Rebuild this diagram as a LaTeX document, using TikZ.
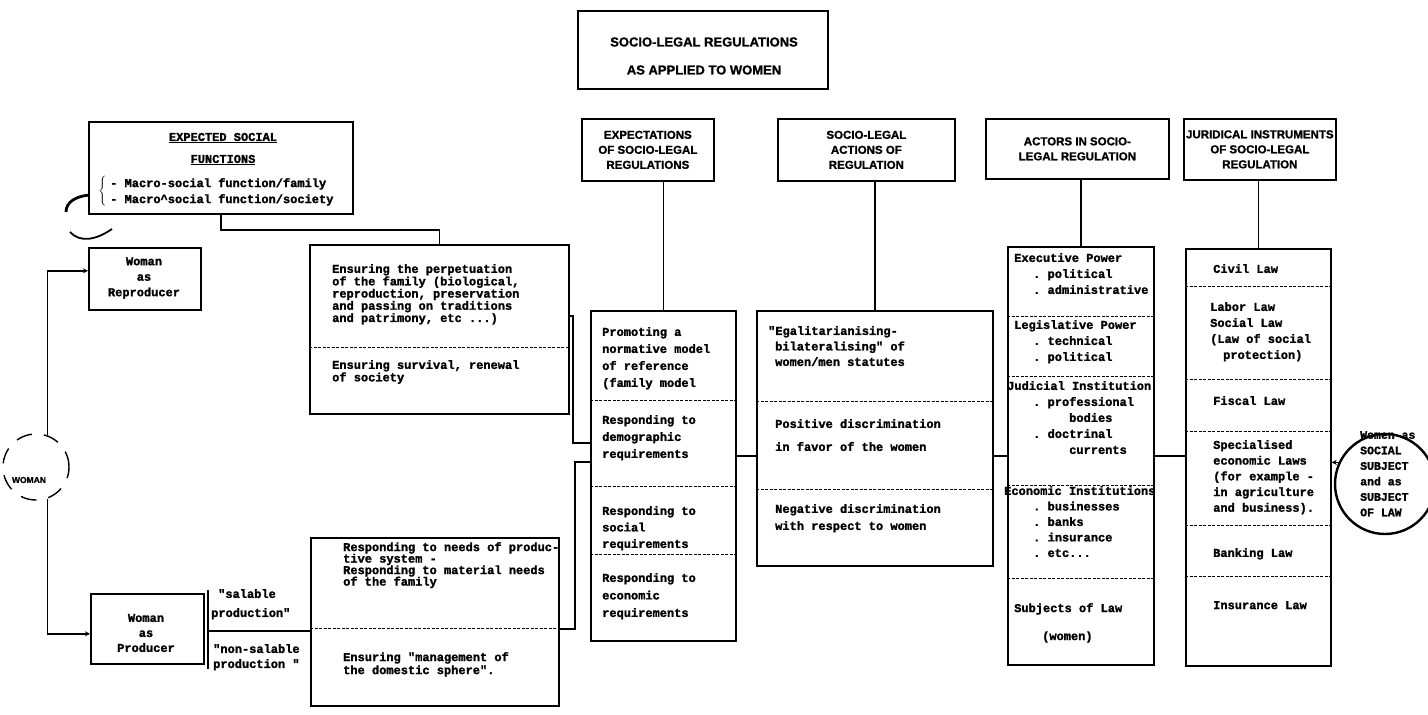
\documentclass[tikz,border=0pt]{standalone}
\usepackage{fontspec}
\setmainfont{Liberation Serif}
\setsansfont[BoldFeatures={FakeBold=1.2}]{Liberation Sans}
\setmonofont[BoldFeatures={FakeBold=1.6}]{Liberation Mono}
\usepackage{tikz}
\usetikzlibrary{arrows.meta}
\tikzset{>={Stealth[length=5pt,width=5pt]}}
\tikzset{
  box/.style={draw, line width=1.7pt, anchor=north west, inner sep=0pt},
  heading/.style={font=\sffamily\bfseries\fontsize{11.5}{15}\selectfont, align=center},
  txt/.style={font=\ttfamily\bfseries\fontsize{12}{11}\selectfont, align=left, anchor=north west, inner sep=0pt},
  divider/.style={line width=1pt, dash pattern=on 3pt off 1.5pt},
  link/.style={line width=1.7pt},
}
\newcommand{\tabin}[1]{\hspace*{#1pt}}

\begin{document}
\begin{tikzpicture}[x=1pt, y=-1pt]
  \useasboundingbox (0,0) rectangle (1428,715);

  \node (title) at (577,10) [box, minimum width=250, minimum height=78] {};
  \node (titletext) at (704,56) [font=\sffamily\bfseries\fontsize{13}{28}\selectfont, align=center] {SOCIO-LEGAL REGULATIONS\\AS APPLIED TO WOMEN};

  \node (functions) at (88,121) [box, minimum width=264, minimum height=92] {};
  \node (funchead) at (223,149) [txt, anchor=center, align=center, font=\ttfamily\bfseries\fontsize{12}{22}\selectfont] {\underline{EXPECTED SOCIAL}\\\underline{FUNCTIONS}};
  \node (funcbrace) at (103,192) [font=\fontsize{12}{12}\selectfont, inner sep=0pt] {$\left\{\vrule height 13pt depth 13pt width 0pt\right.$};
  \node (funclist) at (110,178) [txt, font=\ttfamily\bfseries\fontsize{12}{16}\selectfont] {- Macro-social function/family\\- Macro\textasciicircum social function/society};
  \draw[line width=2.8pt] (90,195) .. controls (76,196) and (66,202) .. (66,212);
  \draw[line width=1.8pt] (70,232) .. controls (80,243) and (96,240) .. (112,229);

  \node (reproducer) at (88,247) [box, minimum width=112, minimum height=62] {};
  \node (reproducertext) at (144,278) [txt, anchor=center, align=center, font=\ttfamily\bfseries\fontsize{12}{15.5}\selectfont] {Woman\\as\\Reproducer};
  \node (producer) at (90,593) [box, minimum width=113, minimum height=70] {};
  \node (producertext) at (146,633) [txt, anchor=center, align=center, font=\ttfamily\bfseries\fontsize{12}{15}\selectfont] {Woman\\as\\Producer};

  \node (woman) at (36,467) [circle, draw, minimum size=66, inner sep=0pt, line width=1.4pt, dash pattern=on 16pt off 12pt] {};
  \node (womanlabel) at (29,480) [font=\sffamily\bfseries\fontsize{8.5}{10}\selectfont] {WOMAN};
  \draw[link,->] (woman.70) |- ([yshift=8pt]reproducer.west);
  \draw[link,->] (woman.-70) |- ([yshift=-5pt]producer.west);

  \node (perpetuation) at (309,244) [box, minimum width=259, minimum height=169] {};
  \node (perpetuation1) at (332,264) [txt] {Ensuring the perpetuation\\of the family (biological,\\reproduction, preservation\\and passing on traditions\\and patrimony, etc ...)};
  \node (perpetuation2) at (332,360) [txt] {Ensuring survival, renewal\\of society};
  \draw[divider] (309,347) -- (568,347);
  \draw[link] (functions.south) -- ++(0,15) -| (perpetuation.north);

  \node (responding) at (310,537) [box, minimum width=248, minimum height=168] {};
  \node (responding1) at (343,542) [txt, font=\ttfamily\bfseries\fontsize{12}{11.5}\selectfont] {Responding to needs of produc-\\tive system -\\Responding to material needs\\of the family};
  \node (responding2) at (343,652) [txt, font=\ttfamily\bfseries\fontsize{12}{13}\selectfont] {Ensuring "management of\\the domestic sphere".};
  \draw[divider] (310,628) -- (558,628);

  \coordinate (fork) at (208,631);
  \draw[link] ([yshift=3pt]fork |- producer.north) -- ([yshift=-4pt]fork |- producer.south);
  \draw[link] (fork) -- (fork -| responding.west);
  \node (salable) at (211,589) [txt, font=\ttfamily\bfseries\fontsize{12}{19}\selectfont] {\tabin{7}"salable\\production"};
  \node (nonsalable) at (213,644) [txt, font=\ttfamily\bfseries\fontsize{12}{15}\selectfont] {"non-salable\\production "};

  \node (expectations) at (581,118) [box, heading, minimum width=132, minimum height=62] {EXPECTATIONS\\OF SOCIO-LEGAL\\REGULATIONS};
  \node (expectbody) at (590,310) [box, minimum width=145, minimum height=330] {};
  \draw[link] (expectbody.north) -- (expectbody.north |- expectations.south);
  \draw[divider] (590,400) -- (735,400);
  \draw[divider] (590,486) -- (735,486);
  \draw[divider] (590,554) -- (735,554);
  \node (expect1) at (602,327) [txt, font=\ttfamily\bfseries\fontsize{12}{17}\selectfont] {Promoting a\\normative model\\of reference\\(family model};
  \node (expect2) at (602,415) [txt, font=\ttfamily\bfseries\fontsize{12}{17}\selectfont] {Responding to\\demographic\\requirements};
  \node (expect3) at (602,506) [txt, font=\ttfamily\bfseries\fontsize{12}{16.5}\selectfont] {Responding to\\social\\requirements};
  \node (expect4) at (602,573) [txt, font=\ttfamily\bfseries\fontsize{12}{17.5}\selectfont] {Responding to\\economic\\requirements};

  \coordinate (joinA) at (573,443);
  \coordinate (joinB) at (575,462);
  \draw[link] ([yshift=-72pt]perpetuation.north east) -| (joinA) -- (joinA -| expectbody.west);
  \draw[link] ([yshift=-7pt]responding.east) -| (joinB) -- (joinB -| expectbody.west);

  \node (actions) at (777,118) [box, heading, minimum width=177, minimum height=62] {SOCIO-LEGAL\\ACTIONS OF\\REGULATION};
  \node (actionbody) at (756,310) [box, minimum width=236, minimum height=255] {};
  \draw[link] (actionbody.north) -- (actionbody.north |- actions.south);
  \draw[divider] (756,401) -- (992,401);
  \draw[divider] (756,489) -- (992,489);
  \node (action1) at (768,326) [txt, font=\ttfamily\bfseries\fontsize{12}{15.5}\selectfont] {"Egalitarianising-\\\tabin{7}bilateralising" of\\\tabin{7}women/men statutes};
  \node (action2) at (775,419) [txt, font=\ttfamily\bfseries\fontsize{12}{23}\selectfont] {Positive discrimination\\in favor of the women};
  \node (action3) at (775,504) [txt, font=\ttfamily\bfseries\fontsize{12}{17}\selectfont] {Negative discrimination\\with respect to women};

  \node (actors) at (985,118) [box, heading, minimum width=183, minimum height=60] {ACTORS IN SOCIO-\\LEGAL REGULATION};
  \node (actorbody) at (1007,246) [box, minimum width=146, minimum height=418] {};
  \draw[link] (actorbody.north) -- (actorbody.north |- actors.south);
  \draw[divider] (1007,316) -- (1153,316);
  \draw[divider] (1007,376) -- (1153,376);
  \draw[divider] (1007,485) -- (1153,485);
  \draw[divider] (1007,578) -- (1153,578);
  \node (actor1) at (1014,253) [txt, font=\ttfamily\bfseries\fontsize{12}{16}\selectfont] {Executive Power\\\tabin{19}. political\\\tabin{19}. administrative};
  \node (actor2) at (1014,320) [txt, font=\ttfamily\bfseries\fontsize{12}{16}\selectfont] {Legislative Power\\\tabin{19}. technical\\\tabin{19}. political};
  \node (actor3) at (1007,381) [txt, font=\ttfamily\bfseries\fontsize{12}{16}\selectfont] {Judicial Institution\\\tabin{26}. professional\\\tabin{62}bodies\\\tabin{26}. doctrinal\\\tabin{62}currents};
  \node (actor4) at (1004,486) [txt, font=\ttfamily\bfseries\fontsize{12}{15.5}\selectfont] {Economic Institutions\\\tabin{29}. businesses\\\tabin{29}. banks\\\tabin{29}. insurance\\\tabin{29}. etc...};
  \node (actor5) at (1014,603) [txt, font=\ttfamily\bfseries\fontsize{12}{28}\selectfont] {Subjects of Law\\\tabin{28}(women)};

  \node (instruments) at (1183,118) [box, heading, minimum width=152, minimum height=61] {JURIDICAL INSTRUMENTS\\OF SOCIO-LEGAL\\REGULATION};
  \node (lawbody) at (1185,248) [box, minimum width=145, minimum height=417] {};
  \draw[link] (lawbody.north) -- (lawbody.north |- instruments.south);
  \draw[divider] (1185,286) -- (1330,286);
  \draw[divider] (1185,379) -- (1330,379);
  \draw[divider] (1185,431) -- (1330,431);
  \draw[divider] (1185,525) -- (1330,525);
  \draw[divider] (1185,576) -- (1330,576);
  \node (law1) at (1213,264) [txt] {Civil Law};
  \node (law2) at (1210,302) [txt, font=\ttfamily\bfseries\fontsize{12}{16}\selectfont] {Labor Law\\Social Law\\(Law of social\\\tabin{13}protection)};
  \node (law3) at (1213,396) [txt] {Fiscal Law};
  \node (law4) at (1213,440) [txt, font=\ttfamily\bfseries\fontsize{12}{15.7}\selectfont] {Specialised\\economic Laws\\(for example -\\in agriculture\\and business).};
  \node (law5) at (1213,548) [txt] {Banking Law};
  \node (law6) at (1213,601) [txt] {Insurance Law};

  \node (womanlaw) at (1385,484) [circle, draw, line width=2.4pt, minimum size=100, inner sep=0pt] {};
  \node (womanlawtext) at (1360,431) [txt, font=\ttfamily\bfseries\fontsize{11.5}{15.5}\selectfont] {Women as\\SOCIAL\\SUBJECT\\and as\\SUBJECT\\OF LAW};
  \draw[link,->] (womanlaw.155) -- (womanlaw.155 -| lawbody.east);

  \draw[link] (actorbody.west -| expectbody.east) -- (actorbody.west -| actionbody.west);
  \draw[link] (actorbody.west -| actionbody.east) -- (actorbody.west);
  \draw[link] (actorbody.east) -- (actorbody.east -| lawbody.west);
\end{tikzpicture}
\end{document}
